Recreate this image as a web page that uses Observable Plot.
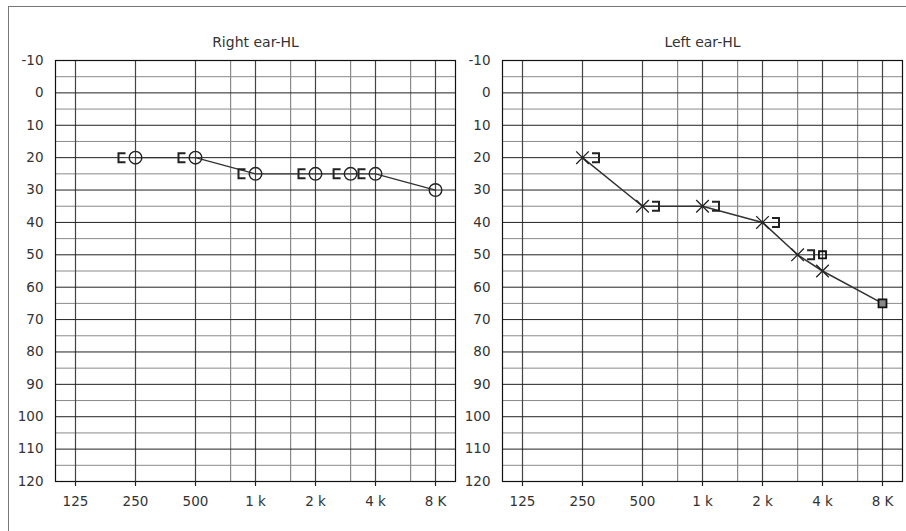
<!DOCTYPE html>
<html>
<head>
<meta charset="utf-8">
<script src="https://cdn.jsdelivr.net/npm/d3@7"></script>
<script src="https://cdn.jsdelivr.net/npm/@observablehq/plot@0.6"></script>
<style>
  body { margin: 0; background: white; }
  #wrap { position: relative; width: 906px; height: 531px; overflow: hidden; font-family: "DejaVu Sans", sans-serif; }
  #border { position: absolute; left: 8px; top: 6px; width: 910px; height: 540px; border-left: 1.5px solid #777; border-top: 1.5px solid #777; }
  .panel { position: absolute; top: 0; }
</style>
</head>
<body>
<div id="wrap">
  <div id="border"></div>
  <div class="panel" id="right" style="left:0px"></div>
  <div class="panel" id="left" style="left:447px"></div>
</div>
<script>
// ---- data ----
const octaveFreqs = [125, 250, 500, 1000, 2000, 4000, 8000];
const octaveLabels = ["125", "250", "500", "1 k", "2 k", "4 k", "8 K"];
const midFreqs = [750, 1500, 3000, 6000];
const dbTicks = [-10, 0, 10, 20, 30, 40, 50, 60, 70, 80, 90, 100, 110, 120];
const dbLabels = ["-10", "0", "10", "20", "30", "40", "50", "60", "70", "80", "90", "100", "110", "120"];
const dbMinor = [-5, 5, 15, 25, 35, 45, 55, 65, 75, 85, 95, 105, 115];

const rightTitle = "Right ear-HL";
const rightAirFreq = [250, 500, 1000, 2000, 3000, 4000, 8000];
const rightAirDb = [20, 20, 25, 25, 25, 25, 30];
const rightBoneFreq = [250, 500, 1000, 2000, 3000, 4000];
const rightBoneDb = [20, 20, 25, 25, 25, 25];

const leftTitle = "Left ear-HL";
const leftAirFreq = [250, 500, 1000, 2000, 3000, 4000, 8000];
const leftAirDb = [20, 35, 35, 40, 50, 55, 65];
const leftAirSymbol = ["x", "x", "x", "x", "x", "x", "square"];
const leftBoneFreq = [250, 500, 1000, 2000, 3000];
const leftBoneDb = [20, 35, 35, 40, 50];
const leftMaskFreq = [4000];
const leftMaskDb = [50];

// ---- symbols ----
const openBracket = { draw(ctx) { ctx.moveTo(3.5, -4.5); ctx.lineTo(-3.5, -4.5); ctx.lineTo(-3.5, 4.5); ctx.lineTo(3.5, 4.5); } };
const closeBracket = { draw(ctx) { ctx.moveTo(-3.5, -4.5); ctx.lineTo(3.5, -4.5); ctx.lineTo(3.5, 4.5); ctx.lineTo(-3.5, 4.5); } };

const rows = (fs, ds, extra) => fs.map((f, i) => ({f, db: ds[i], s: extra ? extra[i] : null}));
const xTicks = octaveFreqs.map((f, i) => ({f, label: octaveLabels[i]}));
const yTicks = dbTicks.map((db, i) => ({db, label: dbLabels[i]}));

function audiogram(title, dataMarks) {
  return Plot.plot({
    width: 457, height: 531,
    marginLeft: 55, marginRight: 2, marginTop: 60, marginBottom: 50,
    style: {background: "transparent", fontFamily: "DejaVu Sans, sans-serif", fontSize: "13px", color: "#333"},
    x: {type: "log", domain: [125 / Math.cbrt(2), 8000 * Math.cbrt(2)], axis: null},
    y: {type: "linear", domain: [-10, 120], reverse: true, axis: null},
    marks: [
      Plot.ruleY(dbMinor, {stroke: "#8a8a8a", strokeWidth: 1}),
      Plot.ruleX(midFreqs, {stroke: "#8a8a8a", strokeWidth: 1.2}),
      Plot.ruleX(octaveFreqs, {stroke: "#444", strokeWidth: 1.2}),
      Plot.ruleY(dbTicks, {stroke: "#222", strokeWidth: 1}),
      Plot.frame({stroke: "#111", strokeWidth: 1.2}),
      Plot.ruleX(octaveFreqs, {y1: 120, y2: 120, insetBottom: -5, stroke: "#222", strokeWidth: 1.2}),
      Plot.text(yTicks, {y: "db", text: "label", frameAnchor: "left", textAnchor: "end", dx: -12, fontSize: 13.5, fill: "#333"}),
      Plot.text(xTicks, {x: "f", text: "label", frameAnchor: "bottom", dy: 24, fontSize: 13.5, fill: "#333"}),
      Plot.text([title], {frameAnchor: "top", dy: -23, fontSize: 14, fill: "#333"}),
      ...dataMarks
    ]
  });
}

const rAir = rows(rightAirFreq, rightAirDb);
const rBone = rows(rightBoneFreq, rightBoneDb);
document.getElementById("right").append(audiogram(rightTitle, [
  Plot.line(rAir, {x: "f", y: "db", stroke: "#333", strokeWidth: 1.3}),
  Plot.dot(rAir, {x: "f", y: "db", symbol: "circle", r: 6.3, fill: "none", stroke: "#222", strokeWidth: 1.4}),
  Plot.dot(rBone, {x: "f", y: "db", symbol: openBracket, dx: -13.5, fill: "none", stroke: "#222", strokeWidth: 2})
]));

const lAir = rows(leftAirFreq, leftAirDb, leftAirSymbol);
const lBone = rows(leftBoneFreq, leftBoneDb);
const lMask = rows(leftMaskFreq, leftMaskDb);
document.getElementById("left").append(audiogram(leftTitle, [
  Plot.line(lAir, {x: "f", y: "db", stroke: "#333", strokeWidth: 1.5}),
  Plot.dot(lAir.filter(d => d.s === "x"), {x: "f", y: "db", symbol: "times", r: 5.8, fill: "none", stroke: "#222", strokeWidth: 1.3}),
  Plot.dot(lAir.filter(d => d.s === "square"), {x: "f", y: "db", symbol: "square", r: 4.5, fill: "#888", stroke: "#111", strokeWidth: 1.8}),
  Plot.dot(lBone, {x: "f", y: "db", symbol: closeBracket, dx: 13, fill: "none", stroke: "#222", strokeWidth: 2}),
  Plot.dot(lMask, {x: "f", y: "db", symbol: "square", r: 4, fill: "none", stroke: "#111", strokeWidth: 1.8})
]));
</script>
</body>
</html>
